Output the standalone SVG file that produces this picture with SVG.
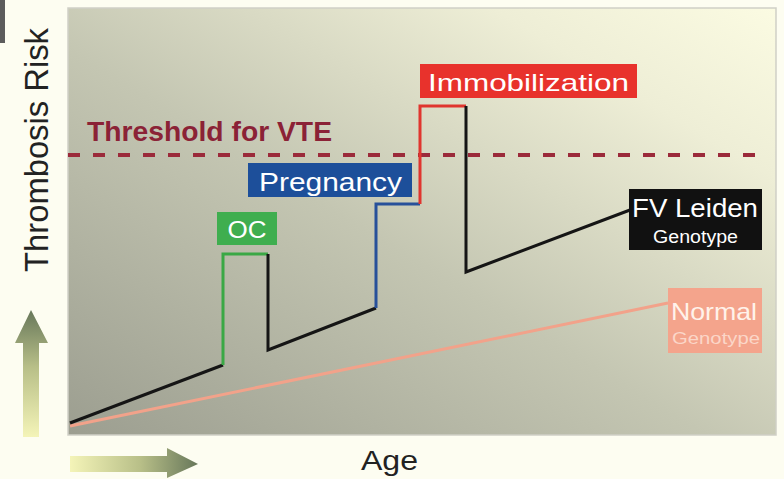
<svg xmlns="http://www.w3.org/2000/svg" width="784" height="479" viewBox="0 0 784 479">
  <defs>
    <linearGradient id="bg" x1="0" y1="1" x2="1" y2="0">
      <stop offset="0" stop-color="#9c9e90"/>
      <stop offset="0.45" stop-color="#c4c6b2"/>
      <stop offset="0.8" stop-color="#eeeed6"/>
      <stop offset="1" stop-color="#fbfbe2"/>
    </linearGradient>
    <linearGradient id="upg" x1="0" y1="1" x2="0" y2="0">
      <stop offset="0" stop-color="#f4f4b8"/>
      <stop offset="0.55" stop-color="#b8bf88"/>
      <stop offset="1" stop-color="#67775a"/>
    </linearGradient>
    <linearGradient id="rg" x1="0" y1="0" x2="1" y2="0">
      <stop offset="0" stop-color="#f4f4b8"/>
      <stop offset="0.55" stop-color="#b8bf88"/>
      <stop offset="1" stop-color="#67775a"/>
    </linearGradient>
    <style>
      text { font-family: "Liberation Sans", Arial, sans-serif; }
      .lbl { fill: #ffffff; }
      .ln { fill: none; stroke-width: 3; stroke-linejoin: miter; }
    </style>
  </defs>

  <rect x="0" y="0" width="784" height="479" fill="#fdfdf1"/>
  <rect x="0" y="0" width="5" height="43" fill="#5c5c5c"/>

  <!-- plot area -->
  <rect x="68" y="8" width="708" height="427" fill="url(#bg)" stroke="#cfcfc6" stroke-width="1.5"/>

  <!-- axes -->
  <g id="y-axis">
    <text x="0" y="0" font-size="33" fill="#222" text-anchor="middle" transform="translate(48,150) rotate(-90)" textLength="244" lengthAdjust="spacingAndGlyphs">Thrombosis Risk</text>
    <path d="M23,437 L23,343 L15,343 L31,310 L48,343 L39,343 L39,437 Z" fill="url(#upg)"/>
  </g>
  <g id="x-axis">
    <text x="361" y="470" font-size="27" fill="#222" textLength="57" lengthAdjust="spacingAndGlyphs">Age</text>
    <path d="M70,456 L167,456 L167,448 L198,464 L167,478 L167,472 L70,472 Z" fill="url(#rg)"/>
  </g>

  <!-- threshold -->
  <g id="threshold">
    <line x1="68" y1="155" x2="760" y2="155" stroke="#9b2a3a" stroke-width="4" stroke-dasharray="12 13"/>
    <text x="87" y="141" font-size="27" font-weight="bold" fill="#8b2236" textLength="245" lengthAdjust="spacingAndGlyphs">Threshold for VTE</text>
  </g>

  <!-- connectors -->
  <g id="connectors">
    <line class="ln" x1="70" y1="426" x2="668" y2="303" stroke="#f2a28a" stroke-width="3.5"/>
    <polyline class="ln" points="70,423 223,365" stroke="#151515"/>
    <polyline class="ln" points="223,365 223,254 268,254" stroke="#3aa845"/>
    <polyline class="ln" points="268,254 268,350 376,308" stroke="#151515"/>
    <polyline class="ln" points="376,308 376,204 420,204" stroke="#27509a"/>
    <polyline class="ln" points="420,204 420,106 466,106" stroke="#e0352e"/>
    <polyline class="ln" points="466,106 466,272 630,210" stroke="#151515"/>
  </g>

  <!-- labels -->
  <g id="oc">
    <rect x="217" y="212" width="60" height="33" fill="#3fae4f"/>
    <text class="lbl" x="247" y="238" font-size="24" text-anchor="middle" textLength="39" lengthAdjust="spacingAndGlyphs">OC</text>
  </g>
  <g id="pregnancy">
    <rect x="248" y="163" width="164" height="34" fill="#1d4f9a"/>
    <text class="lbl" x="259" y="191" font-size="26" textLength="143" lengthAdjust="spacingAndGlyphs">Pregnancy</text>
  </g>
  <g id="immobilization">
    <rect x="420" y="64" width="217" height="34" fill="#e8322c"/>
    <text class="lbl" x="428" y="91" font-size="24" textLength="201" lengthAdjust="spacingAndGlyphs">Immobilization</text>
  </g>
  <g id="fv-leiden">
    <rect x="629" y="189" width="133" height="61" fill="#111111"/>
    <text class="lbl" x="632" y="217" font-size="26" textLength="126" lengthAdjust="spacingAndGlyphs">FV Leiden</text>
    <text class="lbl" x="653" y="243" font-size="18" textLength="85" lengthAdjust="spacingAndGlyphs" fill="#e8e8e8">Genotype</text>
  </g>
  <g id="normal">
    <rect x="668" y="288" width="94" height="65" fill="#f4a48c"/>
    <text x="671" y="320" font-size="24" fill="#fff2ea" textLength="86" lengthAdjust="spacingAndGlyphs">Normal</text>
    <text x="672" y="344" font-size="17" fill="#fbd6c8" textLength="88" lengthAdjust="spacingAndGlyphs">Genotype</text>
  </g>
</svg>
